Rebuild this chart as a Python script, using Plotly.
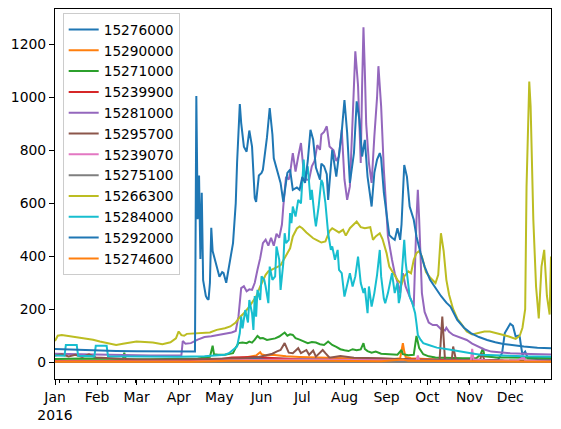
import pandas as pd
import plotly.graph_objects as go

# ---------------- data (day offset from 2016-01-01, value) ----------------
stations = ["15276000", "15290000", "15271000", "15239900", "15281000", "15295700",
            "15239070", "15275100", "15266300", "15284000", "15292000", "15274600"]

d_15276000 = [0, 60, 110, 130, 150, 180, 220, 260, 290, 320, 326, 329, 331, 333, 335, 337, 338, 339, 341, 342, 343, 344, 346, 348, 355, 365]
v_15276000 = [5, 4, 4, 10, 15, 12, 10, 12, 8, 6, 10, 34, 110, 130, 145, 137, 110, 97, 100, 95, 60, 28, 40, 15, 12, 10]

d_15290000 = [0, 30, 60, 90, 110, 120, 130, 140, 148, 150, 151, 152, 155, 160, 170, 180, 190, 200, 210, 220, 230, 240, 250, 254, 256, 257, 258, 262, 270, 280, 300, 320, 340, 365]
v_15290000 = [6, 5, 4, 4, 5, 8, 12, 18, 25, 35, 38, 30, 25, 28, 22, 20, 18, 16, 15, 14, 13, 12, 12, 15, 72, 40, 20, 15, 12, 10, 8, 6, 5, 5]

d_15271000 = [0, 20, 40, 50, 51, 52, 70, 90, 105, 114, 116, 117, 120, 125, 131, 133, 135, 138, 141, 143, 145, 147, 149, 151, 153, 156, 159, 162, 165, 167, 169, 171, 173, 175, 177, 180, 183, 186, 189, 192, 195, 198, 201, 204, 207, 210, 213, 216, 219, 222, 225, 227, 228, 230, 233, 236, 240, 244, 248, 252, 255, 256, 260, 264, 266, 268, 271, 275, 280, 290, 300, 310, 313, 315, 316, 325, 345, 365]
v_15271000 = [12, 14, 13, 12, 36, 12, 11, 12, 14, 20, 62, 30, 28, 28, 34, 55, 72, 74, 72, 78, 74, 85, 99, 90, 91, 84, 88, 90, 97, 103, 112, 100, 105, 103, 91, 85, 78, 72, 76, 74, 68, 65, 78, 65, 58, 49, 45, 42, 49, 45, 48, 72, 50, 42, 36, 40, 32, 30, 28, 28, 46, 30, 26, 28, 99, 53, 30, 22, 18, 16, 15, 15, 28, 53, 22, 18, 17, 16]

d_15239900 = [0, 90, 120, 130, 145, 160, 180, 220, 260, 290, 320, 365]
v_15239900 = [4, 4, 10, 18, 20, 15, 10, 8, 10, 8, 5, 4]

d_15281000 = [0, 15, 30, 50, 70, 93, 94, 96, 100, 105, 110, 115, 120, 125, 130, 133, 135, 137, 139, 141, 143, 145, 147, 149, 151, 153, 155, 157, 159, 161, 163, 165, 167, 168, 170, 172, 173, 175, 177, 179, 181, 183, 185, 187, 189, 191, 193, 195, 196, 198, 200, 202, 205, 207, 209, 211, 213, 215, 217, 219, 221, 223, 225, 226, 227, 228, 229, 231, 233, 235, 237, 238, 240, 242, 244, 245, 248, 250, 253, 254, 256, 258, 261, 264, 266, 267, 268, 270, 272, 275, 278, 281, 284, 287, 288, 290, 293, 296, 300, 303, 307, 311, 316, 321, 328, 335, 350, 365]
v_15281000 = [32, 30, 28, 27, 25, 25, 80, 70, 72, 85, 95, 98, 102, 108, 112, 118, 172, 280, 287, 268, 275, 273, 300, 349, 393, 450, 463, 440, 470, 440, 485, 470, 520, 588, 700, 690, 714, 790, 720, 777, 828, 720, 689, 690, 740, 760, 820, 802, 860, 870, 891, 815, 800, 760, 777, 878, 690, 613, 664, 916, 1174, 1045, 752, 1045, 1265, 1100, 900, 752, 677, 853, 1000, 1118, 966, 727, 563, 475, 387, 336, 286, 261, 336, 286, 248, 210, 538, 651, 538, 261, 190, 150, 140, 140, 125, 120, 130, 115, 103, 97, 90, 84, 70, 59, 48, 40, 36, 34, 31, 29]

d_15295700 = [0, 5, 10, 15, 20, 25, 30, 40, 60, 90, 120, 140, 150, 156, 160, 163, 166, 169, 170, 172, 175, 179, 181, 185, 187, 190, 192, 197, 199, 202, 210, 220, 240, 260, 283, 285, 287, 292, 293, 295, 300, 313, 314, 316, 330, 365]
v_15295700 = [25, 30, 22, 28, 20, 30, 18, 15, 10, 10, 12, 15, 20, 28, 32, 40, 46, 72, 62, 36, 34, 53, 34, 46, 28, 44, 21, 46, 34, 17, 23, 17, 15, 10, 8, 172, 8, 10, 59, 10, 8, 10, 34, 8, 6, 5]

d_15239070 = [0, 100, 140, 180, 220, 260, 266, 267, 268, 300, 306, 307, 308, 320, 340, 345, 346, 365]
v_15239070 = [3, 3, 8, 10, 8, 6, 6, 25, 6, 5, 6, 50, 10, 5, 5, 20, 5, 3]

d_15275100 = [0, 120, 180, 260, 300, 365]
v_15275100 = [0.5, 0.5, 1.5, 1.5, 1, 0.5]

d_15266300 = [0, 2, 5, 11, 20, 28, 33, 40, 45, 50, 55, 60, 66, 72, 79, 85, 89, 91, 93, 95, 97, 105, 114, 119, 125, 129, 133, 136, 139, 143, 148, 151, 153, 155, 157, 160, 163, 166, 168, 171, 173, 175, 178, 180, 182, 185, 188, 190, 193, 196, 199, 202, 204, 206, 209, 212, 214, 217, 220, 222, 225, 228, 232, 234, 236, 239, 241, 244, 246, 249, 252, 255, 257, 260, 262, 264, 266, 268, 270, 273, 276, 280, 282, 284, 286, 288, 290, 293, 296, 299, 303, 307, 312, 316, 320, 325, 330, 334, 339, 342, 344, 346, 347, 349, 350, 352, 354, 356, 357, 358, 360, 361, 362, 364, 365]
v_15266300 = [80, 100, 103, 99, 91, 85, 78, 70, 65, 70, 75, 78, 76, 74, 68, 75, 90, 116, 102, 100, 107, 110, 112, 122, 128, 135, 150, 170, 185, 210, 248, 286, 310, 330, 343, 352, 358, 366, 385, 410, 430, 475, 505, 513, 506, 490, 475, 468, 460, 452, 456, 495, 506, 500, 490, 500, 478, 506, 520, 531, 510, 506, 510, 462, 475, 487, 465, 412, 361, 336, 311, 295, 324, 343, 336, 387, 412, 420, 399, 340, 320, 299, 330, 487, 420, 311, 255, 200, 165, 145, 116, 105, 110, 116, 116, 108, 103, 97, 88, 100, 130, 200, 664, 1060, 966, 538, 286, 165, 250, 361, 424, 350, 250, 180, 399]

d_15284000 = [0, 7, 8, 16, 17, 29, 30, 38, 39, 60, 90, 110, 125, 128, 131, 134, 136, 137, 138, 140, 142, 143, 145, 146, 147, 148, 149, 151, 152, 154, 155, 157, 158, 160, 162, 163, 165, 166, 168, 169, 170, 172, 173, 174, 175, 177, 179, 181, 183, 184, 186, 188, 189, 190, 191, 192, 194, 196, 197, 199, 201, 203, 204, 206, 208, 209, 211, 213, 215, 217, 219, 221, 223, 225, 227, 228, 230, 231, 233, 235, 237, 238, 239, 240, 242, 243, 245, 248, 250, 252, 253, 254, 256, 257, 258, 259, 261, 263, 265, 266, 267, 269, 271, 275, 281, 290, 296, 305, 313, 330, 345, 365]
v_15284000 = [25, 24, 65, 65, 24, 22, 62, 62, 22, 21, 21, 22, 28, 34, 45, 59, 110, 172, 128, 197, 150, 235, 185, 122, 250, 172, 273, 235, 324, 311, 286, 223, 361, 311, 324, 437, 387, 273, 374, 487, 450, 462, 563, 525, 588, 550, 613, 600, 765, 689, 740, 613, 651, 588, 550, 513, 588, 689, 677, 601, 487, 424, 437, 387, 424, 349, 336, 248, 299, 336, 286, 324, 399, 299, 261, 280, 185, 286, 210, 261, 330, 374, 424, 324, 240, 223, 261, 336, 261, 299, 223, 248, 412, 462, 380, 336, 248, 223, 185, 147, 103, 85, 72, 65, 55, 48, 42, 35, 28, 24, 22, 21]

d_15292000 = [0, 15, 30, 45, 60, 80, 103, 104, 105, 106, 107, 108, 109, 110, 111, 112, 113, 114, 115, 116, 117, 119, 121, 123, 124, 126, 127, 129, 131, 133, 134, 136, 137, 139, 141, 143, 145, 147, 148, 150, 152, 153, 155, 156, 158, 160, 161, 164, 166, 168, 171, 173, 175, 178, 180, 182, 184, 186, 188, 190, 192, 195, 196, 198, 200, 201, 204, 207, 209, 211, 213, 215, 217, 219, 220, 222, 224, 226, 228, 230, 232, 233, 235, 237, 239, 240, 242, 244, 246, 248, 250, 252, 254, 255, 257, 259, 261, 264, 266, 269, 272, 276, 280, 284, 288, 291, 296, 301, 306, 312, 318, 324, 330, 338, 345, 355, 365]
v_15292000 = [50, 47, 44, 42, 41, 40, 40, 1005, 540, 705, 390, 640, 310, 280, 250, 240, 236, 300, 508, 420, 399, 361, 323, 340, 337, 300, 330, 387, 450, 600, 754, 975, 904, 814, 795, 875, 814, 620, 605, 705, 715, 727, 800, 850, 960, 860, 770, 715, 677, 606, 715, 727, 651, 660, 651, 700, 677, 760, 878, 840, 735, 689, 750, 740, 710, 613, 802, 701, 777, 870, 990, 866, 677, 765, 790, 985, 915, 777, 840, 701, 620, 588, 715, 765, 790, 770, 640, 550, 480, 470, 462, 506, 462, 520, 745, 700, 588, 538, 475, 412, 361, 311, 280, 250, 225, 210, 160, 130, 110, 95, 84, 75, 69, 63, 59, 55, 53]

d_15274600 = [0, 100, 130, 160, 200, 240, 256, 260, 290, 330, 365]
v_15274600 = [2, 2, 5, 6, 5, 4, 10, 5, 4, 3, 2]

series_days = [d_15276000, d_15290000, d_15271000, d_15239900, d_15281000, d_15295700,
               d_15239070, d_15275100, d_15266300, d_15284000, d_15292000, d_15274600]
series_vals = [v_15276000, v_15290000, v_15271000, v_15239900, v_15281000, v_15295700,
               v_15239070, v_15275100, v_15266300, v_15284000, v_15292000, v_15274600]

month_labels = ["Jan<br>2016", "Feb", "Mar", "Apr", "May", "Jun", "Jul", "Aug", "Sep", "Oct", "Nov", "Dec"]
y_ticks = [0, 200, 400, 600, 800, 1000, 1200]

# ---------------- style ----------------
colors = ["#1f77b4", "#ff7f0e", "#2ca02c", "#d62728", "#9467bd", "#8c564b",
          "#e377c2", "#7f7f7f", "#bcbd22", "#17becf", "#1f77b4", "#ff7f0e"]

start = pd.Timestamp("2016-01-01")
fig = go.Figure()
for name, dd, vv, c in zip(stations, series_days, series_vals, colors):
    x = [start + pd.Timedelta(days=int(k)) for k in dd]
    fig.add_trace(go.Scatter(x=x, y=vv, mode="lines", name=name,
                             line=dict(color=c, width=2)))

month_starts = pd.date_range("2016-01-01", periods=12, freq="MS")
weeks = pd.date_range("2016-01-04", "2016-12-31", freq="7D")

font = dict(family="DejaVu Sans", size=13.9, color="black")
legend_font = dict(family="DejaVu Sans", size=13.7, color="black")
fig.update_layout(
    template="none",
    width=561, height=429,
    margin=dict(l=55, r=10, t=9, b=50, autoexpand=False),
    paper_bgcolor="white", plot_bgcolor="white",
    font=font,
    showlegend=True,
    legend=dict(x=0.0155, y=0.989, xanchor="left", yanchor="top",
                bgcolor="rgba(255,255,255,0.8)", bordercolor="#cccccc", borderwidth=1,
                font=legend_font, tracegroupgap=0),
    xaxis=dict(type="date", range=["2016-01-01", "2016-12-31"], automargin=False,
               tickmode="array", tickvals=list(month_starts), ticktext=month_labels,
               ticks="outside", ticklen=5, tickwidth=1.1, tickcolor="black",
               showline=True, linecolor="black", linewidth=1.1, mirror=True,
               showgrid=False, zeroline=False, tickfont=font,
               minor=dict(tickmode="array", tickvals=list(weeks), ticks="outside",
                          ticklen=3, tickwidth=0.8, tickcolor="black", showgrid=False)),
    yaxis=dict(range=[-63.5, 1334], tickmode="array", tickvals=y_ticks, automargin=False,
               ticks="outside", ticklen=5, tickwidth=1.1, tickcolor="black",
               showline=True, linecolor="black", linewidth=1.1, mirror=True,
               showgrid=False, zeroline=False, tickfont=font),
)

fig.write_html("out.html", config={"displayModeBar": False},
               post_script="document.body.style.margin='0';document.body.style.overflow='hidden';")
